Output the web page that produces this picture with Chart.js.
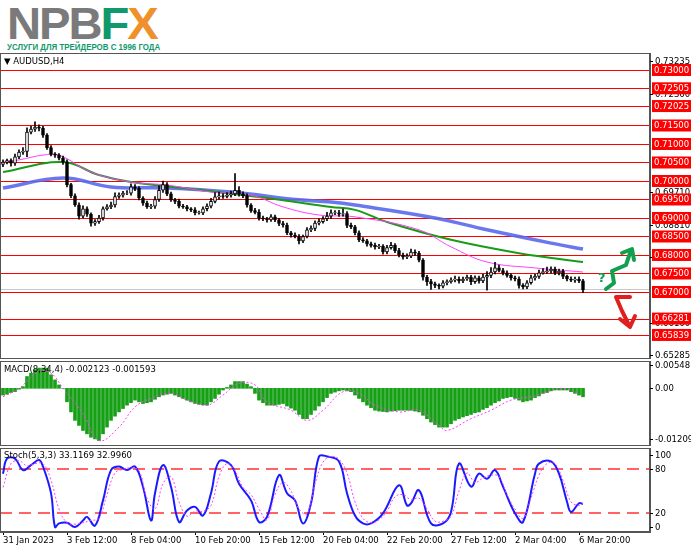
<!DOCTYPE html>
<html><head><meta charset="utf-8">
<script src="https://cdn.jsdelivr.net/npm/chart.js@4"></script>
<style>
body{margin:0;background:#fff;width:691px;height:549px;overflow:hidden;position:relative;font-family:"DejaVu Sans",sans-serif}
canvas{position:absolute;left:0}
.t{position:absolute;font-size:8.5px;color:#000;white-space:nowrap}
#logo{position:absolute;left:7px;top:1px;font-family:"Liberation Sans",Arial,sans-serif;font-weight:bold;font-size:45px;letter-spacing:-2px;line-height:45px;color:#7a7a7a;transform:scaleX(1.05);transform-origin:left}
#sub{position:absolute;left:7px;top:42px;font-family:"Liberation Sans Narrow","Liberation Sans",sans-serif;font-weight:bold;font-size:9px;color:#11996b;transform:scaleX(0.88);transform-origin:left;white-space:nowrap}
</style></head><body>
<div id="logo">NPB<span style="color:#11996b">F</span><span style="color:#f0902a">X</span></div>
<div id="sub">УСЛУГИ ДЛЯ ТРЕЙДЕРОВ С 1996 ГОДА</div>
<canvas id="c1" width="691" height="306" style="top:53px"></canvas>
<canvas id="c2" width="691" height="85" style="top:361px"></canvas>
<canvas id="c3" width="691" height="101" style="top:448px"></canvas>
<div class="t" style="left:4px;top:56px">▼ AUDUSD,H4</div>
<div class="t" style="left:4px;top:364px">MACD(8,34,4) -0.002123 -0.001593</div>
<div class="t" style="left:4px;top:450px">Stoch(5,3,3) 33.1169 32.9960</div>
<script>
const closes=[0.7051,0.7055,0.7048,0.7065,0.7078,0.7080,0.7132,0.7140,0.7146,0.7143,0.7124,0.7090,0.7072,0.7070,0.7062,0.7051,0.6990,0.6960,0.6935,0.6905,
0.6925,0.6910,0.6886,0.6890,0.6900,0.6925,0.6930,0.6935,0.6958,0.6962,0.6967,0.6967,0.6984,0.6980,0.6954,0.6940,0.6930,0.6932,0.6950,0.6975,
0.6990,0.6965,0.6949,0.6945,0.6932,0.6930,0.6925,0.6922,0.6914,0.6914,0.6925,0.6932,0.6945,0.6957,0.6960,0.6958,0.6962,0.6965,0.6975,0.6965,
0.6960,0.6935,0.6920,0.6915,0.6900,0.6898,0.6895,0.6903,0.6895,0.6885,0.6881,0.6860,0.6854,0.6850,0.6838,0.6850,0.6868,0.6872,0.6886,0.6890,
0.6898,0.6905,0.6914,0.6914,0.6910,0.6912,0.6880,0.6876,0.6860,0.6841,0.6838,0.6830,0.6826,0.6822,0.6824,0.6808,0.6820,0.6826,0.6812,0.6800,
0.6795,0.6797,0.6808,0.6805,0.6786,0.6740,0.6728,0.6722,0.6718,0.6716,0.6725,0.6728,0.6732,0.6735,0.6730,0.6735,0.6740,0.6728,0.6738,0.6730,
0.6740,0.6745,0.6754,0.6765,0.6758,0.6752,0.6745,0.6738,0.6735,0.6718,0.6714,0.6725,0.6738,0.6742,0.6752,0.6755,0.6757,0.6762,0.6752,0.6756,
0.6742,0.6735,0.6732,0.6735,0.6730,0.6706];
const firstOpen=0.7045;
const wickHi=[6,4,5,8,6,10,12,8,14,6,5,4,6,5,4,5,6,4,5,6, 8,5,4,6,7,5,6,8,10,6,5,7,8,6,5,4,6,5,8,12, 10,6,5,4,6,5,4,3,6,5,5,6,8,12,10,6,7,8,45,10, 6,5,4,6,8,5,4,6,5,4,6,5,4,6,5,4,6,7,6,8, 6,10,8,6,7,12,5,6,4,5,6,4,5,6,5,4,6,8,5,6, 5,6,8,6,5,4,5,6,5,4,6,5,6,8,6,5,6,5,6,5, 8,10,12,15,8,6,5,4,5,6,5,6,8,6,7,8,10,6,5,6, 5,4,6,5,6,4];
const wickLo=[6,5,8,6,5,6,14,5,6,8,6,5,4,6,5,6,6,5,4,8, 5,6,8,6,5,6,4,5,6,5,6,4,5,6,5,6,4,5,6,5, 6,5,4,6,5,4,6,5,6,4,5,6,5,4,6,5,4,6,5,6, 5,6,5,4,6,5,6,4,5,6,6,5,6,4,8,5,4,5,6,5, 4,5,6,5,6,5,6,5,6,5,4,6,5,6,5,6,5,4,6,5, 6,5,4,6,5,8,10,15,6,8,5,6,4,5,6,5,4,8,5,6, 5,35,6,5,4,6,5,6,5,8,6,5,4,6,5,4,5,6,5,6, 6,5,4,6,5,8];
const maBlue=[[0,0.6981],[15,0.7008],[27,0.6984],[41,0.6981],[57,0.6970],[74,0.6949],[82,0.6943],[88,0.6935],[108,0.6900],[121,0.6868],[137,0.6832],[145,0.6816]];
const maGreen=[[0,0.7024],[15,0.7051],[24,0.7016],[32,0.6997],[49,0.6976],[66,0.6954],[82,0.6930],[88,0.6922],[96,0.6889],[112,0.6841],[129,0.6805],[145,0.6781]];
const maPink=[[0,0.7051],[4,0.7057],[10,0.7070],[14,0.7070],[22,0.7024],[32,0.6997],[41,0.6989],[52,0.6970],[62,0.6962],[70,0.6930],[79,0.6908],[88,0.6903],[104,0.6868],[112,0.6822],[121,0.6781],[133,0.6765],[145,0.6754]];
const redLevels=[0.73000,0.72505,0.72025,0.71500,0.71000,0.70500,0.70000,0.69500,0.69000,0.68500,0.68000,0.67500,0.67000,0.66281,0.65839];
const priceTicks=[0.73235,0.72360,0.69710,0.68810,0.67935,0.66160,0.65285];
const bidLine=0.67075;
const macdHist=[-.0016,-.0014,-.0010,-.0008,-.0002,.0004,.0028,.0036,.0044,.0048,.0048,.0048,.0032,.0020,.0008,0,-.0032,-.0056,-.0076,-.0088,
-.0100,-.0108,-.0116,-.0120,-.0124,-.0108,-.0092,-.0076,-.0066,-.0056,-.0048,-.0040,-.0034,-.0028,-.0032,-.0036,-.0034,-.0032,-.0026,-.0020,
-.0016,-.0014,-.0012,-.0016,-.0020,-.0024,-.0028,-.0032,-.0036,-.0038,-.0039,-.0040,-.0032,-.0024,-.0014,-.0004,.0002,.0008,.0016,.0016,
.0016,.0010,.0004,-.0012,-.0028,-.0034,-.0040,-.0040,-.0040,-.0038,-.0036,-.0042,-.0047,-.0052,-.0062,-.0072,-.0072,-.0062,-.0052,-.0042,
-.0032,-.0022,-.0012,-.0009,-.0006,-.0004,-.0006,-.0008,-.0016,-.0024,-.0032,-.0040,-.0046,-.0052,-.0054,-.0055,-.0056,-.0054,-.0053,-.0052,
-.0052,-.0052,-.0052,-.0054,-.0056,-.0064,-.0072,-.0080,-.0086,-.0092,-.0092,-.0092,-.0084,-.0076,-.0072,-.0068,-.0065,-.0062,-.0058,-.0056,
-.0050,-.0046,-.0040,-.0034,-.0030,-.0024,-.0022,-.0020,-.0024,-.0028,-.0032,-.0030,-.0028,-.0022,-.0018,-.0012,-.0010,-.0006,-.0004,-.0004,
-.0004,-.0004,-.0008,-.0012,-.0016,-.0020];
const macdSignal=[[0,-.0020],[4,0],[9,.0040],[12,.0036],[15,0],[20,-.0060],[24,-.0124],[29,-.0092],[33,-.0044],[37,-.0024],[42,-.0012],[46,-.0028],[51,-.0040],[55,-.0016],[59,.0012],[63,.0008],[66,-.0032],[72,-.0052],[76,-.0076],[80,-.0052],[85,-.0008],[89,-.0012],[93,-.0040],[99,-.0056],[104,-.0052],[109,-.0088],[111,-.0100],[117,-.0072],[122,-.0052],[127,-.0028],[132,-.0020],[136,-.0008],[140,0],[144,-.0012]];
const macdTicks=[0.00548,0,-0.01209];
const macdTickLabels=["0.00548","0.00","-0.012090"];
const stochMain=[[0,74],[1,95],[3,95],[5,79],[7,86],[9,93],[10,84],[12,47],[13,0],[14,5],[16,6],[18,0],[20,9],[21,14],[23,2],[25,37],[27,79],[29,84],[31,79],[33,84],[35,56],[37,9],[38,47],[40,86],[42,56],[44,7],[46,23],[48,28],[50,16],[52,47],[54,91],[57,86],[59,60],[62,37],[64,7],[66,14],[69,72],[71,47],[73,37],[75,5],[77,33],[79,98],[81,98],[84,91],[86,47],[88,16],[90,5],[92,5],[95,19],[99,58],[101,30],[102,33],[104,51],[107,5],[110,5],[112,21],[114,88],[117,56],[119,74],[121,67],[123,79],[125,56],[128,19],[130,7],[133,74],[134,88],[137,91],[139,74],[141,35],[142,21],[144,33],[145,32]];
const stochSignal=[[0,55],[2,88],[4,92],[6,85],[8,88],[10,88],[12,65],[14,25],[16,6],[18,4],[20,6],[22,9],[24,12],[26,45],[28,75],[30,80],[32,82],[34,78],[36,40],[38,25],[40,60],[42,70],[44,35],[46,15],[48,22],[50,22],[52,30],[54,70],[56,88],[58,78],[60,55],[62,45],[64,25],[66,10],[68,45],[70,62],[72,50],[74,25],[76,18],[78,60],[80,90],[82,98],[84,94],[86,75],[88,35],[90,12],[92,6],[94,10],[96,22],[98,42],[100,45],[102,38],[104,40],[106,25],[108,8],[110,8],[112,15],[114,50],[116,75],[118,62],[120,68],[122,72],[124,70],[126,45],[128,25],[130,12],[132,40],[134,72],[136,88],[138,88],[140,65],[142,35],[144,30],[145,33]];
const stochLevels=[80,20];
const stochTicks=[100,80,20,0];
const dateIdx=[0,16,32,48,64,80,96,112,128,144];
const dateLabels=["31 Jan 2023","3 Feb 12:00","8 Feb 04:00","10 Feb 20:00","15 Feb 12:00","20 Feb 04:00","22 Feb 20:00","27 Feb 12:00","2 Mar 04:00","6 Mar 20:00"];

Chart.defaults.font.family="DejaVu Sans";
Chart.defaults.font.size=8;
Chart.defaults.color="#000";
const XMIN=-0.75,XMAX=161.75;
const pts=a=>a.map(p=>({x:p[0],y:p[1]}));
const frame={id:'frame',afterDraw(c){const a=c.chartArea,x=c.ctx;x.save();x.strokeStyle='#555';x.lineWidth=1;x.strokeRect(a.left+0.5,a.top+0.5,a.right-a.left-1,a.bottom-a.top-1);x.restore();}};
function yLabels(ticks,labels){return{id:'ylab',afterDraw(c){const x=c.ctx,y=c.scales.y,a=c.chartArea;x.save();x.font='8.5px DejaVu Sans';x.textBaseline='middle';x.fillStyle='#000';x.strokeStyle='#000';
 ticks.forEach((v,i)=>{const p=Math.round(y.getPixelForValue(v))+0.5;x.beginPath();x.moveTo(a.right,p);x.lineTo(a.right+3,p);x.stroke();x.fillText(labels[i],a.right+5,p);});x.restore();}};}
function yAxis(min,max){return{position:'right',min,max,afterFit(s){s.width=41},grid:{display:false},border:{color:'#555'},ticks:{display:false}};}
function xAxis(show){return{type:'linear',min:XMIN,max:XMAX,offset:false,display:show,afterFit(s){s.height=show?17:0},afterBuildTicks(s){s.ticks=dateIdx.map(v=>({value:v}))},grid:{drawOnChartArea:false,tickLength:3,color:'#000',offset:false},border:{color:'#555'},ticks:{autoSkip:false,maxRotation:0,align:'start',padding:1,callback:(v)=>dateLabels[dateIdx.indexOf(v)]||'',font:{size:8.5}}};}
const base={responsive:false,animation:false,devicePixelRatio:1,plugins:{legend:{display:false},tooltip:{enabled:false}},layout:{padding:0}};

const opens=closes.map((c,i)=>i?closes[i-1]:firstOpen);
const bodies=closes.map((c,i)=>({x:i,y:[opens[i],c===opens[i]?c+0.00003:c]}));
const wicks=closes.map((c,i)=>({x:i,y:[Math.min(opens[i],c)-wickLo[i]/10000,Math.max(opens[i],c)+wickHi[i]/10000]}));
const mainDeco={id:'mainDeco',beforeDatasetsDraw(c){const x=c.ctx,y=c.scales.y,a=c.chartArea;x.save();x.lineWidth=1;
 x.strokeStyle='#c8c8c8';let py=Math.round(y.getPixelForValue(bidLine))+0.5;x.beginPath();x.moveTo(a.left,py);x.lineTo(a.right,py);x.stroke();
 x.strokeStyle='#ff0000';redLevels.forEach(v=>{const p=Math.round(y.getPixelForValue(v))+0.5;x.beginPath();x.moveTo(a.left,p);x.lineTo(a.right,p);x.stroke();});x.restore();},
 afterDraw(c){const x=c.ctx,y=c.scales.y,a=c.chartArea;x.save();x.font='8.5px DejaVu Sans';x.textBaseline='middle';
 redLevels.forEach(v=>{const p=y.getPixelForValue(v);x.fillStyle='#ff0000';x.fillRect(a.right+2,p-6,39,12);x.fillStyle='#fff';x.fillText(v.toFixed(5),a.right+4,p+0.5);});
 x.lineWidth=4;x.lineCap='round';x.lineJoin='round';x.strokeStyle='#12a050';x.beginPath();x.moveTo(606,236);x.lineTo(614,230);x.lineTo(612,218);x.lineTo(626,212);x.lineTo(630,200);x.stroke();
 x.beginPath();x.moveTo(622,200);x.lineTo(632,196);x.lineTo(634,207);x.stroke();
 x.fillStyle='#12a050';x.font='bold 13px DejaVu Sans';x.fillText('?',598,226);
 x.strokeStyle='#e02020';x.beginPath();x.moveTo(630,244);x.lineTo(616,244);x.lineTo(622,258);x.lineTo(628,270);x.stroke();
 x.beginPath();x.moveTo(620,266);x.lineTo(630,274);x.lineTo(635,263);x.stroke();x.restore();}};
new Chart(document.getElementById('c1'),{type:'bar',data:{datasets:[
 {type:'line',data:pts(maBlue),borderColor:'rgba(90,105,235,0.9)',borderWidth:3.5,pointRadius:0,tension:0.4,order:3},
 {type:'line',data:pts(maGreen),borderColor:'#1a9a1a',borderWidth:2,pointRadius:0,tension:0.4,order:2},
 {type:'line',data:pts(maPink),borderColor:'#ff40ff',borderWidth:1,pointRadius:0,tension:0.4,order:1},
 {data:wicks,backgroundColor:'#000',barThickness:1,grouped:false,order:0},
 {data:bodies,backgroundColor:closes.map((c,i)=>c>=opens[i]?'#fff':'#000'),borderColor:'#000',borderWidth:1,borderSkipped:false,barThickness:3,grouped:false,order:-1}
]},options:{...base,scales:{x:xAxis(false),y:yAxis(0.65189,0.73459)}},plugins:[frame,yLabels(priceTicks,priceTicks.map(v=>v.toFixed(5))),mainDeco]});

new Chart(document.getElementById('c2'),{type:'bar',data:{datasets:[
 {type:'line',data:pts(macdSignal),borderColor:'#ff40ff',borderWidth:1,borderDash:[2,2],pointRadius:0,tension:0.4,order:0},
 {data:macdHist.map((v,i)=>({x:i,y:v})),backgroundColor:'#16a016',barThickness:3,grouped:false,order:1}
]},options:{...base,scales:{x:xAxis(false),y:yAxis(-0.01368,0.00648)}},plugins:[frame,yLabels(macdTicks,macdTickLabels)]});

const stDeco={id:'stDeco',beforeDatasetsDraw(c){const x=c.ctx,y=c.scales.y,a=c.chartArea;x.save();x.strokeStyle='#ff3030';x.lineWidth=1.5;x.setLineDash([12,7]);
 stochLevels.forEach(v=>{const p=Math.round(y.getPixelForValue(v));x.beginPath();x.moveTo(a.left,p);x.lineTo(a.right,p);x.stroke();});x.restore();}};
new Chart(document.getElementById('c3'),{type:'line',data:{datasets:[
 {data:pts(stochSignal),borderColor:'#ff40ff',borderWidth:1,borderDash:[2,2],pointRadius:0,tension:0.4},
 {data:pts(stochMain),borderColor:'#1a1aff',borderWidth:2,pointRadius:0,tension:0.4}
]},options:{...base,scales:{x:xAxis(true),y:yAxis(-6.9,109.7)}},plugins:[stDeco,frame,yLabels(stochTicks,stochTicks.map(String))]});
</script></body></html>
